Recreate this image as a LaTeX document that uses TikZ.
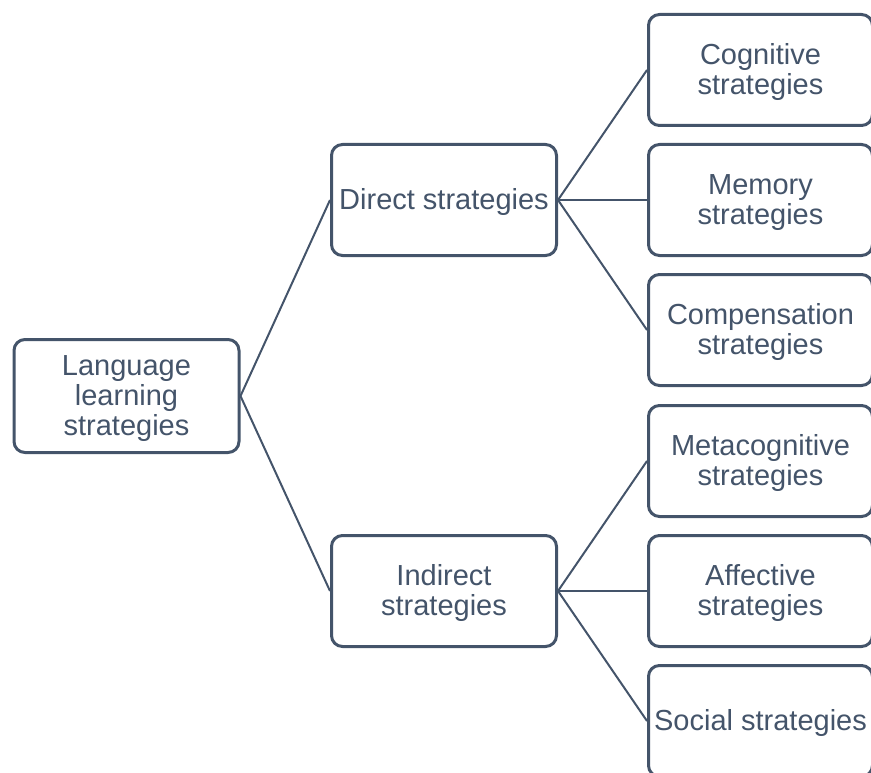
\documentclass[tikz,border=0pt]{standalone}
\usepackage{fontspec}
\setmainfont{Liberation Sans}
\definecolor{slate}{HTML}{44546A}
\newcommand{\boxtext}[1]{\raisebox{0pt}[\dimexpr\height+7pt\relax][\depth]{\begin{tabular}{@{}c@{}}#1\end{tabular}}}
\begin{document}
\begin{tikzpicture}[x=1pt,y=-1pt,
  box/.style={draw=slate, line width=3pt, rounded corners=11pt, fill=white,
    minimum width=225pt, minimum height=111pt, inner sep=0pt,
    text=slate, font=\fontsize{29}{30}\selectfont},
  rbox/.style={box, minimum width=224pt},
  link/.style={draw=slate, line width=2pt}]
\useasboundingbox (0,0) rectangle (871,773);
\clip (0,0) rectangle (871,773);
\node[box, minimum height=113pt] (root) at (126.5,396) {\boxtext{Language\\learning\\strategies}};
\node[box] (direct) at (444,200) {\boxtext{Direct strategies}};
\node[box] (indirect) at (444,591) {\boxtext{Indirect\\strategies}};
\node[rbox] (cog) at (760.5,70) {\boxtext{Cognitive\\strategies}};
\node[rbox] (mem) at (760.5,200) {\boxtext{Memory\\strategies}};
\node[rbox] (comp) at (760.5,330) {\boxtext{Compensation\\strategies}};
\node[rbox] (meta) at (760.5,461) {\boxtext{Metacognitive\\strategies}};
\node[rbox] (aff) at (760.5,591) {\boxtext{Affective\\strategies}};
\node[rbox] (soc) at (760.5,721) {\boxtext{Social strategies}};
\draw[link] (root.east) -- (direct.west);
\draw[link] (root.east) -- (indirect.west);
\draw[link] (direct.east) -- (cog.west);
\draw[link] (direct.east) -- (mem.west);
\draw[link] (direct.east) -- (comp.west);
\draw[link] (indirect.east) -- (meta.west);
\draw[link] (indirect.east) -- (aff.west);
\draw[link] (indirect.east) -- (soc.west);
\end{tikzpicture}
\end{document}
